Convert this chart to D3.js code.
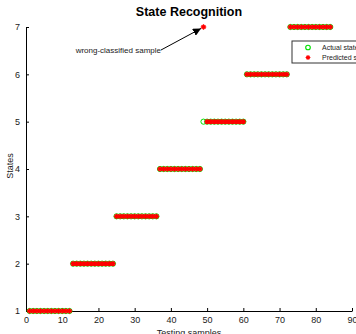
<!DOCTYPE html>
<html>
<head>
<meta charset="utf-8">
<script src="https://cdn.jsdelivr.net/npm/d3@7"></script>
<style>
  html, body { margin: 0; padding: 0; background: #fff; }
  svg { display: block; font-family: "Liberation Sans", Arial, sans-serif; }
</style>
</head>
<body>
<svg id="chart" width="356" height="334"></svg>
<script>
// Test sample indices and their true / recognised states
const samples = d3.range(1, 85);
const actualStates = [
  1,1,1,1,1,1,1,1,1,1,1,1,
  2,2,2,2,2,2,2,2,2,2,2,2,
  3,3,3,3,3,3,3,3,3,3,3,3,
  4,4,4,4,4,4,4,4,4,4,4,4,
  5,5,5,5,5,5,5,5,5,5,5,5,
  6,6,6,6,6,6,6,6,6,6,6,6,
  7,7,7,7,7,7,7,7,7,7,7,7
];
const predictedStates = [
  1,1,1,1,1,1,1,1,1,1,1,1,
  2,2,2,2,2,2,2,2,2,2,2,2,
  3,3,3,3,3,3,3,3,3,3,3,3,
  4,4,4,4,4,4,4,4,4,4,4,4,
  7,5,5,5,5,5,5,5,5,5,5,5,
  6,6,6,6,6,6,6,6,6,6,6,6,
  7,7,7,7,7,7,7,7,7,7,7,7
];
const xTicks = [0, 10, 20, 30, 40, 50, 60, 70, 80, 90];
const yTicks = [1, 2, 3, 4, 5, 6, 7];
const legendLabels = ["Actual state", "Predicted state"];
const wrongSample = 49;

const svg = d3.select("#chart");
const margin = { left: 26, right: 4, top: 27, bottom: 23 };
const W = 356, H = 334;

const x = d3.scaleLinear().domain([0, 90]).range([margin.left, W - margin.right]);
const y = d3.scaleLinear().domain([1, 7]).range([H - margin.bottom, margin.top]);

const textColor = "#1a1a1a";

// Axes (ticks pointing inwards, MATLAB style, box off)
const xAxis = svg.append("g")
  .attr("transform", `translate(0,${y(1)})`)
  .call(d3.axisBottom(x).tickValues(xTicks).tickFormat(d3.format("d"))
    .tickSizeInner(-3).tickSizeOuter(0).tickPadding(6));
const yAxis = svg.append("g")
  .attr("transform", `translate(${x(0)},0)`)
  .call(d3.axisLeft(y).tickValues(yTicks).tickFormat(d3.format("d"))
    .tickSizeInner(-3).tickSizeOuter(0).tickPadding(6));
[xAxis, yAxis].forEach(g => {
  g.select(".domain").attr("stroke", "#000").attr("stroke-width", 1);
  g.selectAll(".tick line").attr("stroke", "#000");
  g.selectAll(".tick text").attr("fill", textColor).style("font-size", "9px")
    .style("font-family", "'Liberation Sans', Arial, sans-serif");
});

// Title and axis labels
svg.append("text")
  .attr("x", 189).attr("y", 16)
  .attr("text-anchor", "middle")
  .style("font-size", "12.5px").style("font-weight", "bold")
  .attr("fill", "#000")
  .text("State Recognition");

svg.append("text")
  .attr("x", 189).attr("y", 336)
  .attr("text-anchor", "middle")
  .style("font-size", "9px")
  .attr("fill", textColor)
  .text("Testing samples");

svg.append("text")
  .attr("transform", `translate(13,${(y(1) + y(7)) / 2 - 3}) rotate(-90)`)
  .attr("text-anchor", "middle")
  .style("font-size", "9px")
  .attr("fill", textColor)
  .text("States");

// Asterisk marker: a plus overlaid with a cross
function asterisk(s) {
  const d = s * 0.707;
  return `M${-s},0L${s},0M0,${-s}L0,${s}M${-d},${-d}L${d},${d}M${-d},${d}L${d},${-d}`;
}

// Actual states: green circles
svg.append("g").selectAll("circle")
  .data(samples)
  .join("circle")
  .attr("cx", (d) => x(d))
  .attr("cy", (d, i) => y(actualStates[i]))
  .attr("r", 2.6)
  .attr("fill", "none")
  .attr("stroke", "#00e000")
  .attr("stroke-width", 1);

// Predicted states: red asterisks
svg.append("g").selectAll("path")
  .data(samples)
  .join("path")
  .attr("transform", (d, i) => `translate(${x(d)},${y(predictedStates[i])})`)
  .attr("d", asterisk(2.7))
  .attr("fill", "none")
  .attr("stroke", "#ff0000")
  .attr("stroke-width", 1.3);

// Annotation for the misclassified sample
const wi = samples.indexOf(wrongSample);
const tip = [x(wrongSample) - 2.5, y(predictedStates[wi]) + 1.5];
const tail = [161, 50];
svg.append("defs").append("marker")
  .attr("id", "arrowHead")
  .attr("viewBox", "0 0 10 10")
  .attr("refX", 10).attr("refY", 5)
  .attr("markerWidth", 8).attr("markerHeight", 8)
  .attr("markerUnits", "userSpaceOnUse")
  .attr("orient", "auto")
  .append("path")
  .attr("d", "M0,0L10,5L0,10Z")
  .attr("fill", "#000");
svg.append("line")
  .attr("x1", tail[0]).attr("y1", tail[1])
  .attr("x2", tip[0]).attr("y2", tip[1])
  .attr("stroke", "#000").attr("stroke-width", 1)
  .attr("marker-end", "url(#arrowHead)");
svg.append("text")
  .attr("x", tail[0]).attr("y", tail[1] + 3)
  .attr("text-anchor", "end")
  .style("font-size", "8px")
  .attr("fill", textColor)
  .text("wrong-classified sample");

// Legend
const lg = svg.append("g").attr("transform", "translate(292,41)");
lg.append("rect")
  .attr("x", 0).attr("y", 0).attr("width", 80).attr("height", 22)
  .attr("fill", "#fff").attr("stroke", "#333").attr("stroke-width", 1);
lg.append("circle")
  .attr("cx", 16).attr("cy", 6.5).attr("r", 2.3)
  .attr("fill", "none").attr("stroke", "#00e000").attr("stroke-width", 1.1);
lg.append("path")
  .attr("transform", "translate(16,16.5)")
  .attr("d", asterisk(2.4))
  .attr("fill", "none").attr("stroke", "#ff0000").attr("stroke-width", 1.1);
lg.selectAll("text.lbl")
  .data(legendLabels)
  .join("text")
  .attr("class", "lbl")
  .attr("x", 30)
  .attr("y", (d, i) => 9 + i * 10)
  .style("font-size", "7px")
  .attr("fill", textColor)
  .text((d) => d);
</script>
</body>
</html>
